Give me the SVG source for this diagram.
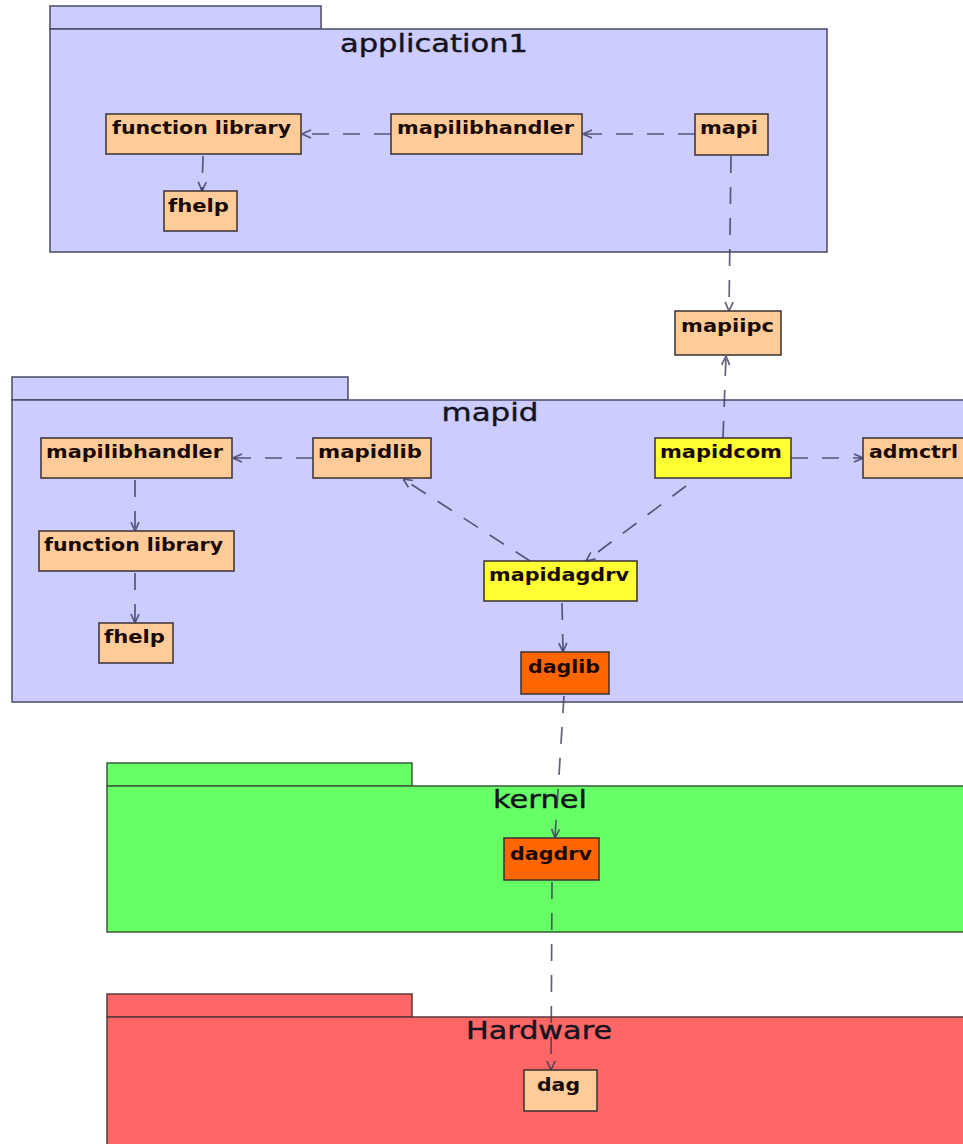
<svg xmlns="http://www.w3.org/2000/svg" width="963" height="1144" viewBox="0 0 963 1144">
<style>
.pkg{stroke:#4a4a66;stroke-width:1.5}
.blue{fill:#ccccff}
.green{fill:#66ff66;stroke:#3a5a3a}
.red{fill:#ff6666;stroke:#5a3a3a}
.ptitle{font-family:"DejaVu Sans",sans-serif;font-size:24px;fill:#14141e;stroke:#14141e;stroke-width:0.4;text-anchor:middle}
.node rect{stroke:#3a3030;stroke-width:1.5}
.peach{fill:#ffcc99}
.yellow{fill:#ffff33}
.orange{fill:#ff6600}
.lbl{font-family:"DejaVu Sans",sans-serif;font-weight:bold;font-size:17px;fill:#1a0a05}
.con line{stroke:#3a3a5a;stroke-opacity:0.8;stroke-width:1.7;stroke-dasharray:17 14;fill:none}
</style>
<defs>
<marker id="arr" viewBox="0 0 10 10" refX="10" refY="5" markerWidth="10" markerHeight="10" markerUnits="userSpaceOnUse" orient="auto">
<path d="M1,1 L10,5 L1,9" fill="none" stroke="#3a3a5a" stroke-opacity="0.8" stroke-width="1.7"/>
</marker>
</defs>
<rect width="963" height="1144" fill="#ffffff"/>

<g id="pkg-application1">
<rect class="pkg blue" x="50" y="6" width="271" height="23"/>
<rect class="pkg blue" x="50" y="29" width="777" height="223"/>
<text class="ptitle" x="434" y="52" textLength="188" lengthAdjust="spacingAndGlyphs">application1</text>
</g>
<g id="pkg-mapid">
<rect class="pkg blue" x="12" y="377" width="336" height="23"/>
<rect class="pkg blue" x="12" y="400" width="970" height="302"/>
<text class="ptitle" x="490" y="421" textLength="97" lengthAdjust="spacingAndGlyphs">mapid</text>
</g>
<g id="pkg-kernel">
<rect class="pkg green" x="107" y="763" width="305" height="23"/>
<rect class="pkg green" x="107" y="786" width="880" height="146"/>
<text class="ptitle" x="540" y="808" textLength="94" lengthAdjust="spacingAndGlyphs">kernel</text>
</g>
<g id="pkg-hardware">
<rect class="pkg red" x="107" y="994" width="305" height="23"/>
<rect class="pkg red" x="107" y="1017" width="880" height="160"/>
<text class="ptitle" x="539" y="1039" textLength="146" lengthAdjust="spacingAndGlyphs">Hardware</text>
</g>

<g id="n-app-funclib" class="node"><rect class="peach" x="106" y="114" width="195" height="40"/><text class="lbl" x="112" y="134" textLength="179" lengthAdjust="spacingAndGlyphs">function library</text></g>
<g id="n-app-mapilibhandler" class="node"><rect class="peach" x="391" y="114" width="191" height="40"/><text class="lbl" x="397" y="134" textLength="177" lengthAdjust="spacingAndGlyphs">mapilibhandler</text></g>
<g id="n-mapi" class="node"><rect class="peach" x="695" y="114" width="73" height="41"/><text class="lbl" x="700" y="134" textLength="58" lengthAdjust="spacingAndGlyphs">mapi</text></g>
<g id="n-app-fhelp" class="node"><rect class="peach" x="164" y="191" width="73" height="40"/><text class="lbl" x="168" y="212" textLength="61" lengthAdjust="spacingAndGlyphs">fhelp</text></g>
<g id="n-mapiipc" class="node"><rect class="peach" x="675" y="311" width="106" height="44"/><text class="lbl" x="681" y="332" textLength="93" lengthAdjust="spacingAndGlyphs">mapiipc</text></g>
<g id="n-mapid-mapilibhandler" class="node"><rect class="peach" x="41" y="438" width="191" height="40"/><text class="lbl" x="46" y="458" textLength="177" lengthAdjust="spacingAndGlyphs">mapilibhandler</text></g>
<g id="n-mapidlib" class="node"><rect class="peach" x="313" y="438" width="118" height="40"/><text class="lbl" x="318" y="458" textLength="104" lengthAdjust="spacingAndGlyphs">mapidlib</text></g>
<g id="n-mapidcom" class="node"><rect class="yellow" x="655" y="438" width="136" height="40"/><text class="lbl" x="660" y="458" textLength="122" lengthAdjust="spacingAndGlyphs">mapidcom</text></g>
<g id="n-admctrl" class="node"><rect class="peach" x="863" y="438" width="110" height="40"/><text class="lbl" x="869" y="458" textLength="89" lengthAdjust="spacingAndGlyphs">admctrl</text></g>
<g id="n-mapid-funclib" class="node"><rect class="peach" x="39" y="531" width="195" height="40"/><text class="lbl" x="44" y="551" textLength="179" lengthAdjust="spacingAndGlyphs">function library</text></g>
<g id="n-mapidagdrv" class="node"><rect class="yellow" x="484" y="561" width="153" height="40"/><text class="lbl" x="489" y="581" textLength="140" lengthAdjust="spacingAndGlyphs">mapidagdrv</text></g>
<g id="n-mapid-fhelp" class="node"><rect class="peach" x="99" y="623" width="74" height="40"/><text class="lbl" x="104" y="643" textLength="61" lengthAdjust="spacingAndGlyphs">fhelp</text></g>
<g id="n-daglib" class="node"><rect class="orange" x="521" y="652" width="88" height="42"/><text class="lbl" x="528" y="673" textLength="72" lengthAdjust="spacingAndGlyphs">daglib</text></g>
<g id="n-dagdrv" class="node"><rect class="orange" x="504" y="838" width="95" height="42"/><text class="lbl" x="510" y="860" textLength="82" lengthAdjust="spacingAndGlyphs">dagdrv</text></g>
<g id="n-dag" class="node"><rect class="peach" x="524" y="1070" width="73" height="41"/><text class="lbl" x="537" y="1091" textLength="43" lengthAdjust="spacingAndGlyphs">dag</text></g>

<g id="connectors" class="con">
<line x1="391" y1="134" x2="302" y2="134" marker-end="url(#arr)"/>
<line x1="695" y1="134" x2="583" y2="134" marker-end="url(#arr)"/>
<line x1="203" y1="156" x2="202" y2="191" marker-end="url(#arr)"/>
<line x1="731" y1="156" x2="729" y2="311" marker-end="url(#arr)"/>
<line x1="723" y1="438" x2="726" y2="356" marker-end="url(#arr)"/>
<line x1="313" y1="458" x2="233" y2="458" marker-end="url(#arr)"/>
<line x1="791" y1="458" x2="863" y2="458" marker-end="url(#arr)"/>
<line x1="686" y1="486" x2="586" y2="561" marker-end="url(#arr)"/>
<line x1="530" y1="561" x2="403" y2="479" marker-end="url(#arr)"/>
<line x1="135" y1="480" x2="135" y2="531" marker-end="url(#arr)"/>
<line x1="135" y1="573" x2="135" y2="623" marker-end="url(#arr)"/>
<line x1="562" y1="603" x2="563" y2="652" marker-end="url(#arr)"/>
<line x1="564" y1="696" x2="555" y2="838" marker-end="url(#arr)"/>
<line x1="552" y1="882" x2="551" y2="1070" marker-end="url(#arr)"/>
</g>
</svg>
